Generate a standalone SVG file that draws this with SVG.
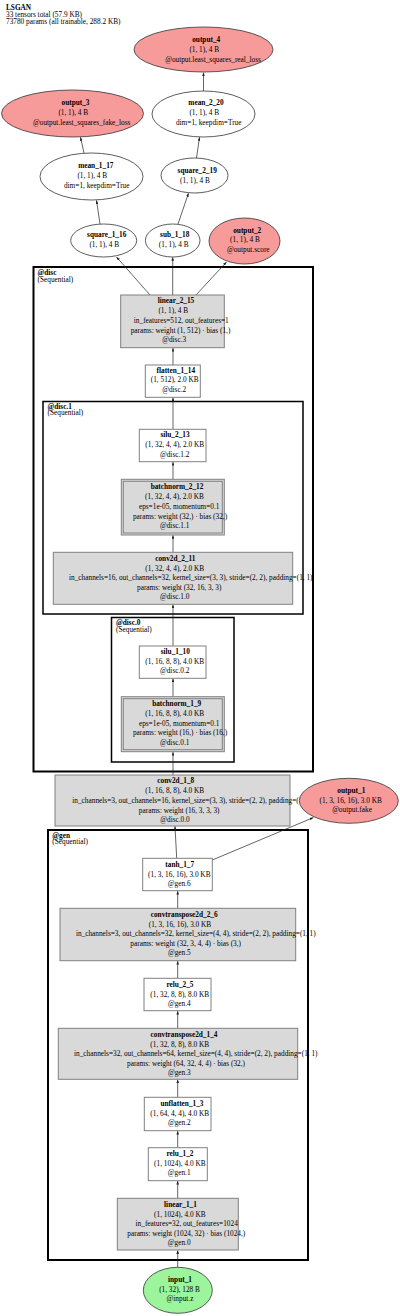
<svg xmlns="http://www.w3.org/2000/svg" width="400" height="1316" viewBox="0 0 400 1316">
<style>
text{font-family:"Liberation Serif","Times New Roman",serif;font-size:7.3px;fill:#000;text-anchor:middle}
.b{font-weight:bold}
.l{text-anchor:start}
.box{fill:#fff;stroke:#808080;stroke-width:1}
.gbox{fill:#d9d9d9;stroke:#808080;stroke-width:1}
.ell{fill:#fff;stroke:#333;stroke-width:0.8}
.red{fill:#f79a9a;stroke:#333;stroke-width:0.8}
.grn{fill:#9cf59c;stroke:#333;stroke-width:0.8}
.cl{fill:none;stroke:#000}
.e{stroke:#222;stroke-width:0.7;fill:none;marker-end:url(#ah)}
</style>
<defs>
<marker id="ah" viewBox="0 0 8 6" refX="8" refY="3" markerWidth="3.6" markerHeight="2.8" markerUnits="userSpaceOnUse" orient="auto">
<path d="M0,0 L8,3 L0,6 z" fill="#222"/>
</marker>
</defs>
<rect width="400" height="1316" fill="#fff"/>
<g id="title">
<text class="b l" x="6" y="9.5">LSGAN</text>
<text class="l" x="6" y="16.5">33 tensors total (57.9 KB)</text>
<text class="l" x="6" y="23.5">73780 params (all trainable, 288.2 KB)</text>
</g>
<g id="clusters">
<rect class="cl" x="33.5" y="267" width="279.5" height="504.5" stroke-width="2"/>
<text class="b l" x="37.5" y="275">@disc</text>
<text class="l" x="37.5" y="281.5">(Sequential)</text>
<rect class="cl" x="43" y="401.5" width="260" height="212.5" stroke-width="1.5"/>
<text class="b l" x="47.5" y="408.5">@disc.1</text>
<text class="l" x="47.5" y="415">(Sequential)</text>
<rect class="cl" x="111.5" y="617.5" width="122.5" height="144.5" stroke-width="1.5"/>
<text class="b l" x="116" y="625">@disc.0</text>
<text class="l" x="116" y="631.7">(Sequential)</text>
<rect class="cl" x="48" y="830" width="260" height="430" stroke-width="2"/>
<text class="b l" x="52.3" y="837.7">@gen</text>
<text class="l" x="52.3" y="844.2">(Sequential)</text>
</g>
<g id="edges">
<line class="e" x1="203.5" y1="91" x2="203.5" y2="72.5"/>
<line class="e" x1="84" y1="153" x2="80.5" y2="137.2"/>
<line class="e" x1="196.5" y1="158" x2="199.5" y2="137.2"/>
<line class="e" x1="100" y1="224" x2="96.5" y2="200.3"/>
<line class="e" x1="178" y1="224" x2="188.5" y2="193.2"/>
<line class="e" x1="150" y1="295" x2="116.5" y2="257"/>
<line class="e" x1="172.7" y1="295" x2="172.7" y2="257.2"/>
<line class="e" x1="196" y1="295" x2="226.5" y2="262"/>
<line class="e" x1="173" y1="365" x2="173" y2="348"/>
<line class="e" x1="173" y1="429.3" x2="173" y2="397.5"/>
<line class="e" x1="173" y1="479.3" x2="173" y2="462"/>
<line class="e" x1="173" y1="552.3" x2="173" y2="535.2"/>
<line class="e" x1="173" y1="646" x2="173" y2="604.5"/>
<line class="e" x1="173" y1="696.7" x2="173" y2="678.5"/>
<line class="e" x1="173" y1="775" x2="173" y2="752"/>
<line class="e" x1="176.7" y1="858.3" x2="175" y2="826.2"/>
<line class="e" x1="212.3" y1="860" x2="313.5" y2="817.5"/>
<line class="e" x1="177.7" y1="908.3" x2="177.7" y2="891"/>
<line class="e" x1="177.7" y1="978.3" x2="177.7" y2="961"/>
<line class="e" x1="177.7" y1="1028.3" x2="177.7" y2="1011"/>
<line class="e" x1="177.7" y1="1097.3" x2="177.7" y2="1079.5"/>
<line class="e" x1="177.7" y1="1147.7" x2="177.7" y2="1131"/>
<line class="e" x1="177.7" y1="1198.3" x2="177.7" y2="1181"/>
<line class="e" x1="177.7" y1="1267.3" x2="177.7" y2="1250.3"/>
</g>
<g id="output_4">
<ellipse class="red" cx="203.5" cy="49.5" rx="69.5" ry="22.5"/>
<text class="b" x="206.2" y="42">output_4</text>
<text x="204.3" y="52">(1, 1), 4 B</text>
<text x="213" y="62">@output.least_squares_real_loss</text>
</g>
<g id="output_3">
<ellipse class="red" cx="72.5" cy="113.5" rx="71" ry="23.5"/>
<text class="b" x="75.5" y="105">output_3</text>
<text x="73.3" y="115">(1, 1), 4 B</text>
<text x="81.7" y="125">@output.least_squares_fake_loss</text>
</g>
<g id="mean_2_20">
<ellipse class="ell" cx="203.5" cy="114" rx="51.5" ry="23"/>
<text class="b" x="206" y="105">mean_2_20</text>
<text x="204.3" y="115">(1, 1), 4 B</text>
<text x="208.7" y="125">dim=1, keepdim=True</text>
</g>
<g id="mean_1_17">
<ellipse class="ell" cx="91.5" cy="176.5" rx="51.5" ry="23.5"/>
<text class="b" x="95.8" y="168.3">mean_1_17</text>
<text x="92.3" y="178.3">(1, 1), 4 B</text>
<text x="96.7" y="187.7">dim=1, keepdim=True</text>
</g>
<g id="square_2_19">
<ellipse class="ell" cx="194.5" cy="175.5" rx="33.5" ry="17.5"/>
<text class="b" x="197.2" y="173.3">square_2_19</text>
<text x="195" y="182.7">(1, 1), 4 B</text>
</g>
<g id="square_1_16">
<ellipse class="ell" cx="103.7" cy="240.5" rx="33" ry="16.5"/>
<text class="b" x="106.7" y="237.3">square_1_16</text>
<text x="104.3" y="246.7">(1, 1), 4 B</text>
</g>
<g id="sub_1_18">
<ellipse class="ell" cx="172.7" cy="240.5" rx="27.3" ry="16.5"/>
<text class="b" x="174.7" y="237.3">sub_1_18</text>
<text x="173.7" y="246.7">(1, 1), 4 B</text>
</g>
<g id="output_2">
<ellipse class="red" cx="244.5" cy="241" rx="35.5" ry="23"/>
<text class="b" x="247.2" y="232.7">output_2</text>
<text x="245" y="242.3">(1, 1), 4 B</text>
<text x="248.3" y="252">@output.score</text>
</g>
<g id="linear_2_15">
<rect class="gbox" x="120.7" y="295" width="103.6" height="52.7"/>
<text class="b" x="176" y="303.3">linear_2_15</text>
<text x="173.3" y="313.3">(1, 1), 4 B</text>
<text x="181.3" y="323.3">in_features=512, out_features=1</text>
<text x="180.5" y="332.7">params: weight (1, 512) · bias (1,)</text>
<text x="174.2" y="342.3">@disc.3</text>
</g>
<g id="flatten_1_14">
<rect class="box" x="145.3" y="365" width="55" height="32.3"/>
<text class="b" x="175.8" y="372.7">flatten_1_14</text>
<text x="174.7" y="382.3">(1, 512), 2.0 KB</text>
<text x="174.2" y="391.7">@disc.2</text>
</g>
<g id="silu_2_13">
<rect class="box" x="139.3" y="429.3" width="66.7" height="32.4"/>
<text class="b" x="175" y="437.3">silu_2_13</text>
<text x="174.7" y="447.3">(1, 32, 4, 4), 2.0 KB</text>
<text x="174.7" y="456.7">@disc.1.2</text>
</g>
<g id="batchnorm_2_12">
<rect class="gbox" x="121.3" y="479.3" width="103" height="55.7"/>
<rect class="gbox" x="123.3" y="481.3" width="99" height="51.7"/>
<text class="b" x="177" y="489.3">batchnorm_2_12</text>
<text x="174.5" y="499.3">(1, 32, 4, 4), 2.0 KB</text>
<text x="179.2" y="509">eps=1e-05, momentum=0.1</text>
<text x="180" y="518.7">params: weight (32,) · bias (32,)</text>
<text x="174.7" y="528.3">@disc.1.1</text>
</g>
<g id="conv2d_2_11">
<rect class="gbox" x="53.3" y="552.3" width="239.4" height="52"/>
<text class="b" x="175.3" y="560.7">conv2d_2_11</text>
<text x="174.7" y="570.7">(1, 32, 4, 4), 2.0 KB</text>
<text x="190.8" y="580.3">in_channels=16, out_channels=32, kernel_size=(3, 3), stride=(2, 2), padding=(1, 1)</text>
<text x="179.2" y="589.7">params: weight (32, 16, 3, 3)</text>
<text x="174.7" y="599.3">@disc.1.0</text>
</g>
<g id="silu_1_10">
<rect class="box" x="139.3" y="646" width="66.7" height="32.3"/>
<text class="b" x="175.3" y="654">silu_1_10</text>
<text x="174.7" y="664">(1, 16, 8, 8), 4.0 KB</text>
<text x="174.7" y="673.3">@disc.0.2</text>
</g>
<g id="batchnorm_1_9">
<rect class="gbox" x="121.3" y="696.7" width="103" height="55"/>
<rect class="gbox" x="123.3" y="698.7" width="99" height="51"/>
<text class="b" x="176.7" y="706">batchnorm_1_9</text>
<text x="174.7" y="716">(1, 16, 8, 8), 4.0 KB</text>
<text x="179.2" y="725.7">eps=1e-05, momentum=0.1</text>
<text x="180" y="735.3">params: weight (16,) · bias (16,)</text>
<text x="174.7" y="745">@disc.0.1</text>
</g>
<g id="conv2d_1_8">
<rect class="gbox" x="55" y="775" width="235" height="51"/>
<text class="b" x="175.8" y="783.3">conv2d_1_8</text>
<text x="174.7" y="793.3">(1, 16, 8, 8), 4.0 KB</text>
<text x="192.2" y="803.3">in_channels=3, out_channels=16, kernel_size=(3, 3), stride=(2, 2), padding=(1, 1)</text>
<text x="179.2" y="812.7">params: weight (16, 3, 3, 3)</text>
<text x="175" y="822.3">@disc.0.0</text>
</g>
<g id="output_1">
<ellipse class="red" cx="348.8" cy="800.8" rx="49.5" ry="22.5"/>
<text class="b" x="351.3" y="792.7">output_1</text>
<text x="350.7" y="802.7">(1, 3, 16, 16), 3.0 KB</text>
<text x="352" y="812.3">@output.fake</text>
</g>
<g id="tanh_1_7">
<rect class="box" x="142.7" y="858.3" width="69.6" height="32.4"/>
<text class="b" x="179.7" y="866.7">tanh_1_7</text>
<text x="179.3" y="876.7">(1, 3, 16, 16), 3.0 KB</text>
<text x="179.2" y="886.3">@gen.6</text>
</g>
<g id="convtranspose2d_2_6">
<rect class="gbox" x="60" y="908.3" width="235.7" height="52.4"/>
<text class="b" x="184.2" y="916.7">convtranspose2d_2_6</text>
<text x="180" y="926.7">(1, 3, 16, 16), 3.0 KB</text>
<text x="195.8" y="936.3">in_channels=3, out_channels=32, kernel_size=(4, 4), stride=(2, 2), padding=(1, 1)</text>
<text x="185.7" y="945.7">params: weight (32, 3, 4, 4) · bias (3,)</text>
<text x="179.3" y="955.3">@gen.5</text>
</g>
<g id="relu_2_5">
<rect class="box" x="144" y="978.3" width="67" height="32.4"/>
<text class="b" x="180" y="986.7">relu_2_5</text>
<text x="179.7" y="996.7">(1, 32, 8, 8), 8.0 KB</text>
<text x="179.3" y="1006.3">@gen.4</text>
</g>
<g id="convtranspose2d_1_4">
<rect class="gbox" x="58.3" y="1028.3" width="239.4" height="51"/>
<text class="b" x="184" y="1036.7">convtranspose2d_1_4</text>
<text x="179.7" y="1046.7">(1, 32, 8, 8), 8.0 KB</text>
<text x="195.8" y="1056.3">in_channels=32, out_channels=64, kernel_size=(4, 4), stride=(2, 2), padding=(1, 1)</text>
<text x="186" y="1065.7">params: weight (64, 32, 4, 4) · bias (32,)</text>
<text x="179.3" y="1075.3">@gen.3</text>
</g>
<g id="unflatten_1_3">
<rect class="box" x="144.3" y="1097.3" width="66.7" height="33.4"/>
<text class="b" x="182" y="1106">unflatten_1_3</text>
<text x="179.7" y="1116">(1, 64, 4, 4), 4.0 KB</text>
<text x="179.3" y="1125.3">@gen.2</text>
</g>
<g id="relu_1_2">
<rect class="box" x="148.3" y="1147.7" width="59" height="33"/>
<text class="b" x="180" y="1156">relu_1_2</text>
<text x="179.8" y="1166">(1, 1024), 4.0 KB</text>
<text x="179.2" y="1175.3">@gen.1</text>
</g>
<g id="linear_1_1">
<rect class="gbox" x="117.3" y="1198.3" width="121" height="51.7"/>
<text class="b" x="180.5" y="1206.7">linear_1_1</text>
<text x="179.8" y="1216.7">(1, 1024), 4.0 KB</text>
<text x="186.7" y="1226.3">in_features=32, out_features=1024</text>
<text x="186.3" y="1235.7">params: weight (1024, 32) · bias (1024,)</text>
<text x="179.2" y="1245.3">@gen.0</text>
</g>
<g id="input_1">
<ellipse class="grn" cx="177.8" cy="1290.3" rx="34.5" ry="23"/>
<text class="b" x="180" y="1281.7">input_1</text>
<text x="179.5" y="1291.7">(1, 32), 128 B</text>
<text x="180" y="1301.3">@input.z</text>
</g>
</svg>
